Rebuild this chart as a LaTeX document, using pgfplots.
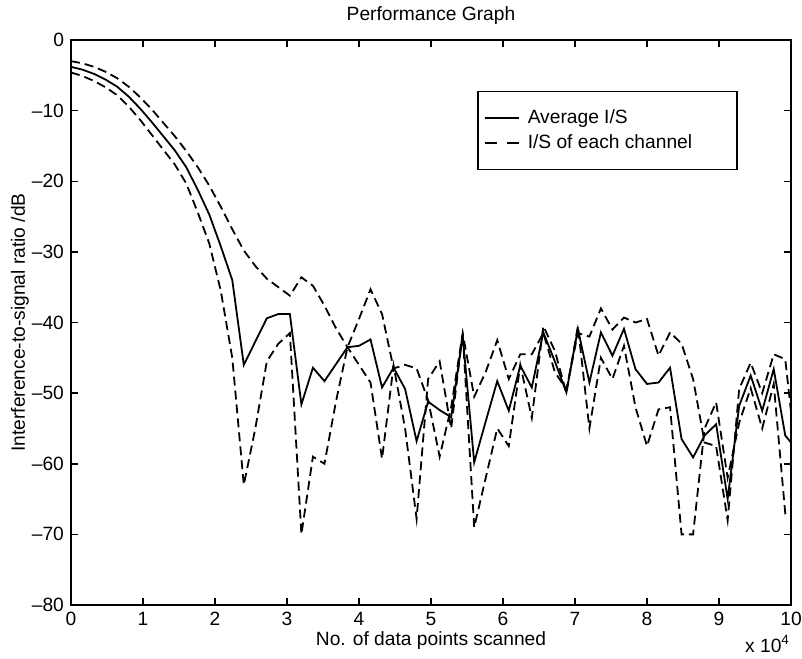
\documentclass[border=0pt]{standalone}
\usepackage{fontspec}
\setmainfont{Liberation Sans}
\usepackage{pgfplots}
\pgfplotsset{compat=1.18}
\usepackage{pgfplotstable}

\pgfplotstableread{
x s a b
0.00 -3.8 -3.0 -4.6
0.16 -4.2 -3.3 -5.1
0.32 -4.8 -3.8 -5.8
0.48 -5.6 -4.5 -6.7
0.64 -6.6 -5.4 -7.8
0.80 -8.0 -6.6 -9.4
0.96 -9.7 -8.1 -11.3
1.12 -11.6 -9.8 -13.4
1.28 -13.6 -11.7 -15.5
1.44 -15.6 -13.6 -17.6
1.60 -18.0 -15.7 -20.3
1.76 -21.2 -18.0 -24.4
1.92 -24.7 -20.6 -28.8
2.08 -29.2 -23.6 -35.5
2.24 -34.0 -26.8 -45.0
2.40 -46.0 -29.8 -63.0
2.56 -42.7 -32.0 -55.0
2.72 -39.4 -33.8 -45.5
2.88 -38.8 -35.0 -43.0
3.04 -38.8 -36.2 -41.5
3.20 -51.6 -33.6 -70.0
3.36 -46.4 -34.8 -59.0
3.52 -48.3 -37.6 -60.0
3.68 -45.9 -40.8 -51.2
3.84 -43.5 -43.5 -43.5
4.00 -43.3 -46.0 -39.5
4.16 -42.4 -48.5 -35.3
4.32 -49.2 -59.3 -38.8
4.48 -46.4 -46.1 -46.5
4.64 -49.4 -55.0 -46.0
4.80 -56.8 -67.8 -46.5
4.96 -51.2 -48.0 -51.0
5.12 -52.4 -45.5 -59.0
5.28 -53.4 -55.0 -52.0
5.44 -41.9 -41.5 -41.5
5.60 -59.8 -69.0 -50.5
5.76 -54.0 -62.0 -47.0
5.92 -48.3 -55.0 -42.5
6.08 -52.5 -57.5 -48.0
6.24 -46.1 -46.0 -44.5
6.40 -49.2 -53.5 -44.5
6.56 -41.4 -40.5 -41.5
6.72 -45.5 -44.0 -47.0
6.88 -49.9 -50.0 -49.5
7.04 -40.9 -40.5 -41.5
7.20 -48.5 -55.0 -42.0
7.36 -41.4 -45.0 -38.0
7.52 -44.7 -48.0 -41.0
7.68 -40.9 -43.3 -39.3
7.84 -46.6 -52.0 -40.0
8.00 -48.7 -57.5 -39.5
8.16 -48.5 -52.3 -44.7
8.32 -46.4 -52.0 -41.4
8.48 -56.5 -70.0 -43.0
8.64 -59.1 -70.0 -48.0
8.80 -56.0 -55.0 -57.0
8.96 -54.4 -51.3 -57.5
9.12 -65.0 -62.0 -68.0
9.28 -51.8 -54.2 -49.4
9.44 -47.5 -49.3 -45.7
9.60 -52.5 -55.0 -50.0
9.76 -46.6 -48.7 -44.5
9.92 -56.0 -67.0 -45.2
10.08 -58.0 -66.0 -60.0
}\data

\begin{document}
\begin{tikzpicture}[font=\fontsize{9.6}{11.5}\selectfont]
\begin{axis}[
  scale only axis,
  width=360pt, height=282.5pt,
  xmin=0, xmax=10, ymin=-80, ymax=0,
  xtick={0,1,...,10},
  xticklabels={0,1,2,3,4,5,6,7,8,9,10},
  ytick={-80,-70,...,0},
  yticklabels={–80,–70,–60,–50,–40,–30,–20,–10,0},
  major tick length=3.5pt,
  axis line style={line width=0.75pt},
  every tick/.style={black, line width=0.75pt},
  title={Performance Graph},
  title style={at={(axis description cs:0.5,1.0125)}, anchor=base, yshift=0pt},
  xlabel={No. of data points scanned},
  xlabel style={at={(axis description cs:0.5,-0.0708)}, anchor=base},
  ylabel={Interference-to-signal ratio /dB},
  ylabel style={at={(axis description cs:-0.0639,0.5)}, anchor=base},
  legend style={at={(0.564,0.910)}, anchor=north west, draw=black,
    line width=0.75pt, inner xsep=3pt, inner ysep=8pt,
    nodes={inner sep=1pt}, cells={anchor=west}, column sep=3pt, row sep=2pt},
]
\addplot[black, line width=0.9pt] table[x=x, y=s] {\data};
\addlegendentry{Average I/S}
\addplot[black, line width=0.9pt, dash pattern=on 4.5pt off 2.5pt,
  legend image code/.code={\draw[black, line width=0.9pt, dash pattern=on 6pt off 5pt] (0cm,0cm) -- (0.6cm,0cm);}]
  table[x=x, y=a] {\data};
\addlegendentry{\makebox[100.5pt][l]{I/S of each channel}}
\addplot[black, line width=0.9pt, dash pattern=on 4.5pt off 2.5pt, forget plot]
  table[x=x, y=b] {\data};
\end{axis}
\node[anchor=base east] at ([xshift=3pt, yshift=-23.5pt]current axis.south east) {x 10\textsuperscript{4}};
\pgfresetboundingbox
\path[use as bounding box] ([xshift=-35.5pt, yshift=-26.5pt]current axis.south west) rectangle ([xshift=5.5pt, yshift=20pt]current axis.north east);
\end{tikzpicture}
\end{document}
